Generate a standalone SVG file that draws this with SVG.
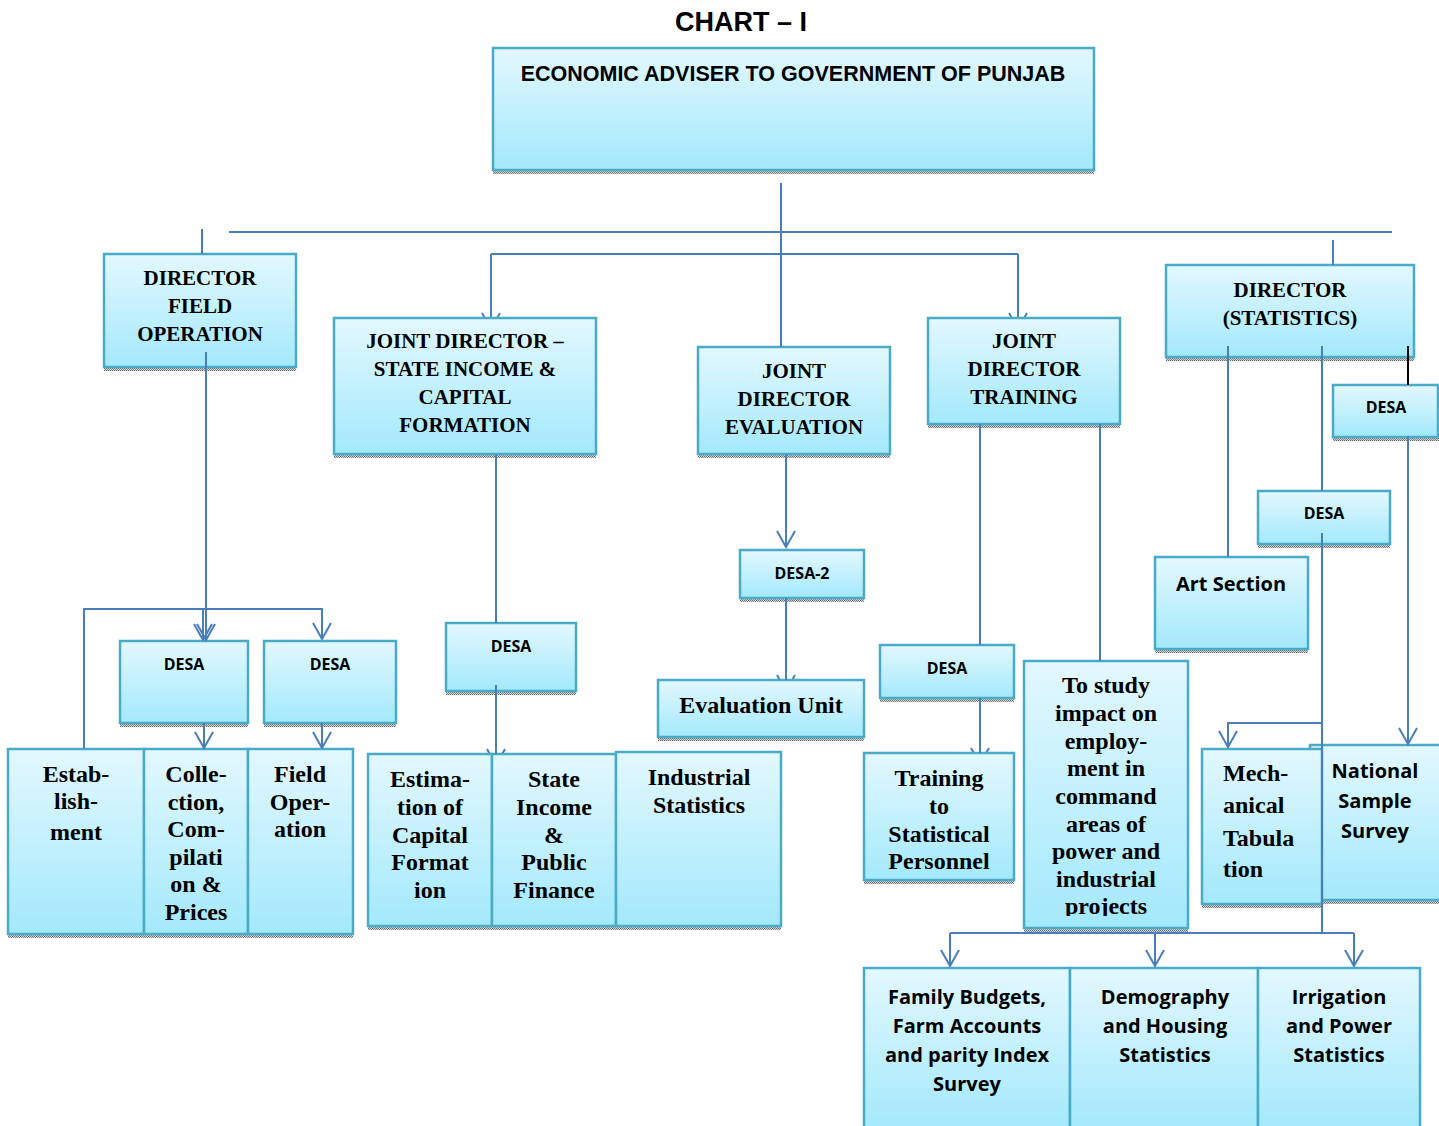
<svg xmlns="http://www.w3.org/2000/svg" width="1439" height="1126" viewBox="0 0 1439 1126">
<defs>
  <linearGradient id="g" x1="0" y1="0" x2="0" y2="1">
    <stop offset="0" stop-color="#e3f8fe"/>
    <stop offset="1" stop-color="#a3e9fc"/>
  </linearGradient>
  <pattern id="hatch" width="2" height="2" patternUnits="userSpaceOnUse">
    <rect width="2" height="2" fill="#d4d4d4"/>
    <rect width="1" height="1" fill="#6a6a6a"/>
    <rect x="1" y="1" width="1" height="1" fill="#8a8a8a"/>
  </pattern>
  <marker id="arr" viewBox="0 0 20 20" refX="18" refY="10" markerWidth="20" markerHeight="20" markerUnits="userSpaceOnUse" orient="auto">
    <path d="M2,1 L18,10 L2,19" fill="none" stroke="#4a7ebb" stroke-width="2"/>
  </marker>
  <clipPath id="clipTrain"><rect x="864" y="753" width="150" height="117"/></clipPath>
  <clipPath id="clipStudy"><rect x="1024" y="661" width="164" height="255"/></clipPath>
  <style>
    .box{fill:url(#g);stroke:#4aabc6;stroke-width:2.5}
    .sh{fill:url(#hatch)}
    .ln{fill:none;stroke:#4a7ebb;stroke-width:2}
    .ar{fill:none;stroke:#4a7ebb;stroke-width:2;marker-end:url(#arr)}
    .serif{font-family:"Liberation Serif","Times New Roman",serif;font-weight:bold;fill:#000;text-anchor:middle}
    .h{font-size:21px}
    .b{font-size:24px}
    .sans{font-family:"Open Sans","Liberation Sans",Arial,sans-serif;font-weight:bold;fill:#000;text-anchor:middle}
    .ds{font-size:16px}
    .s20{font-size:20px}
    .arial{font-family:"Liberation Sans",Arial,sans-serif;font-weight:bold;fill:#000;text-anchor:middle}
  </style>
</defs>
<rect width="1439" height="1126" fill="#ffffff"/>

<text class="arial" x="741" y="31" font-size="27">CHART – I</text>

<!-- arrows partly hidden behind boxes -->
<g id="connectors-back">
  <path class="ar" d="M491,254 V329"/>
  <path class="ar" d="M1018,254 V329"/>
  <path class="ar" d="M496,740 V765"/>
  <path class="ar" d="M786,668 V691"/>
  <path class="ar" d="M980,740 V764"/>
</g>

<g id="n-top">
  <rect class="sh" x="493" y="170" width="601" height="4"/>
  <rect class="box" x="493" y="48" width="601" height="122"/>
  <text class="arial" x="793" y="81" font-size="21.5">ECONOMIC ADVISER TO GOVERNMENT OF PUNJAB</text>
</g>

<g id="n-dfo">
  <rect class="sh" x="104" y="367" width="192" height="4"/>
  <rect class="box" x="104" y="254" width="192" height="113"/>
  <text class="serif h" x="200" y="285">DIRECTOR</text>
  <text class="serif h" x="200" y="313">FIELD</text>
  <text class="serif h" x="200" y="341">OPERATION</text>
</g>

<g id="n-jdsi">
  <rect class="sh" x="334" y="454" width="262" height="4"/>
  <rect class="box" x="334" y="318" width="262" height="136"/>
  <text class="serif h" x="465" y="348">JOINT DIRECTOR –</text>
  <text class="serif h" x="465" y="376">STATE INCOME &amp;</text>
  <text class="serif h" x="465" y="404">CAPITAL</text>
  <text class="serif h" x="465" y="432">FORMATION</text>
</g>

<g id="n-jde">
  <rect class="sh" x="698" y="454" width="192" height="4"/>
  <rect class="box" x="698" y="347" width="192" height="107"/>
  <text class="serif h" x="794" y="378">JOINT</text>
  <text class="serif h" x="794" y="406">DIRECTOR</text>
  <text class="serif h" x="794" y="434">EVALUATION</text>
</g>

<g id="n-jdt">
  <rect class="sh" x="928" y="424" width="192" height="4"/>
  <rect class="box" x="928" y="318" width="192" height="106"/>
  <text class="serif h" x="1024" y="348">JOINT</text>
  <text class="serif h" x="1024" y="376">DIRECTOR</text>
  <text class="serif h" x="1024" y="404">TRAINING</text>
</g>

<g id="n-dst">
  <rect class="sh" x="1166" y="357" width="248" height="4"/>
  <rect class="box" x="1166" y="265" width="248" height="92"/>
  <text class="serif h" x="1290" y="297">DIRECTOR</text>
  <text class="serif h" x="1290" y="325">(STATISTICS)</text>
</g>

<g id="n-desa-l1">
  <rect class="sh" x="120" y="723" width="128" height="4"/>
  <rect class="box" x="120" y="641" width="128" height="82"/>
  <text class="sans ds" x="184" y="670">DESA</text>
</g>

<g id="n-desa-l2">
  <rect class="sh" x="264" y="723" width="132" height="4"/>
  <rect class="box" x="264" y="641" width="132" height="82"/>
  <text class="sans ds" x="330" y="670">DESA</text>
</g>

<g id="n-estab">
  <rect class="sh" x="8" y="934" width="136" height="4"/>
  <rect class="box" x="8" y="749" width="136" height="185"/>
  <text class="serif b" x="76" y="782">Estab-</text>
  <text class="serif b" x="76" y="809">lish-</text>
  <text class="serif b" x="76" y="840">ment</text>
</g>

<g id="n-coll">
  <rect class="sh" x="144" y="934" width="104" height="4"/>
  <rect class="box" x="144" y="749" width="104" height="185"/>
  <text class="serif b" x="196" y="782">Colle-</text>
  <text class="serif b" x="196" y="810">ction,</text>
  <text class="serif b" x="196" y="837">Com-</text>
  <text class="serif b" x="196" y="865">pilati</text>
  <text class="serif b" x="196" y="892">on &amp;</text>
  <text class="serif b" x="196" y="920">Prices</text>
</g>

<g id="n-fop">
  <rect class="sh" x="248" y="934" width="105" height="4"/>
  <rect class="box" x="248" y="749" width="105" height="185"/>
  <text class="serif b" x="300" y="782">Field</text>
  <text class="serif b" x="300" y="810">Oper-</text>
  <text class="serif b" x="300" y="837">ation</text>
</g>

<g id="n-desa-m">
  <rect class="sh" x="446" y="691" width="130" height="4"/>
  <rect class="box" x="446" y="623" width="130" height="68"/>
  <text class="sans ds" x="511" y="652">DESA</text>
</g>

<g id="n-estim">
  <rect class="sh" x="368" y="926" width="124" height="4"/>
  <rect class="box" x="368" y="754" width="124" height="172"/>
  <text class="serif b" x="430" y="787">Estima-</text>
  <text class="serif b" x="430" y="815">tion of</text>
  <text class="serif b" x="430" y="843">Capital</text>
  <text class="serif b" x="430" y="870">Format</text>
  <text class="serif b" x="430" y="898">ion</text>
</g>

<g id="n-sipf">
  <rect class="sh" x="492" y="926" width="124" height="4"/>
  <rect class="box" x="492" y="754" width="124" height="172"/>
  <text class="serif b" x="554" y="787">State</text>
  <text class="serif b" x="554" y="815">Income</text>
  <text class="serif b" x="554" y="843">&amp;</text>
  <text class="serif b" x="554" y="870">Public</text>
  <text class="serif b" x="554" y="898">Finance</text>
</g>

<g id="n-ind">
  <rect class="sh" x="616" y="926" width="165" height="4"/>
  <rect class="box" x="616" y="752" width="165" height="174"/>
  <text class="serif b" x="699" y="785">Industrial</text>
  <text class="serif b" x="699" y="813">Statistics</text>
</g>

<g id="n-desa2">
  <rect class="sh" x="740" y="598" width="124" height="4"/>
  <rect class="box" x="740" y="550" width="124" height="48"/>
  <text class="sans ds" x="802" y="579">DESA-2</text>
</g>

<g id="n-evu">
  <rect class="sh" x="658" y="737" width="206" height="4"/>
  <rect class="box" x="658" y="680" width="206" height="57"/>
  <text class="serif b" x="761" y="713">Evaluation Unit</text>
</g>

<g id="n-desa-t">
  <rect class="sh" x="880" y="698" width="134" height="4"/>
  <rect class="box" x="880" y="645" width="134" height="53"/>
  <text class="sans ds" x="947" y="674">DESA</text>
</g>

<g id="n-train">
  <rect class="sh" x="864" y="880" width="150" height="4"/>
  <rect class="box" x="864" y="753" width="150" height="127"/>
  <g clip-path="url(#clipTrain)">
    <text class="serif b" x="939" y="786">Training</text>
    <text class="serif b" x="939" y="814">to</text>
    <text class="serif b" x="939" y="842">Statistical</text>
    <text class="serif b" x="939" y="869">Personnel</text>
  </g>
</g>

<g id="n-study">
  <rect class="sh" x="1024" y="928" width="164" height="4"/>
  <rect class="box" x="1024" y="661" width="164" height="267"/>
  <g clip-path="url(#clipStudy)">
    <text class="serif b" x="1106" y="693">To study</text>
    <text class="serif b" x="1106" y="721">impact on</text>
    <text class="serif b" x="1106" y="749">employ-</text>
    <text class="serif b" x="1106" y="776">ment in</text>
    <text class="serif b" x="1106" y="804">command</text>
    <text class="serif b" x="1106" y="832">areas of</text>
    <text class="serif b" x="1106" y="859">power and</text>
    <text class="serif b" x="1106" y="887">industrial</text>
    <text class="serif b" x="1106" y="914">projects</text>
  </g>
</g>

<g id="n-desa-r">
  <rect class="sh" x="1333" y="437" width="106" height="4"/>
  <rect class="box" x="1333" y="385" width="105" height="52"/>
  <text class="sans ds" x="1386" y="413">DESA</text>
</g>

<g id="n-desa-s">
  <rect class="sh" x="1258" y="544" width="132" height="4"/>
  <rect class="box" x="1258" y="491" width="132" height="53"/>
  <text class="sans ds" x="1324" y="519">DESA</text>
</g>

<g id="n-art">
  <rect class="sh" x="1155" y="649" width="153" height="4"/>
  <rect class="box" x="1155" y="557" width="153" height="92"/>
  <text class="sans s20" x="1231" y="591">Art Section</text>
</g>

<g id="n-nss">
  <rect class="sh" x="1310" y="900" width="129" height="4"/>
  <rect class="box" x="1310" y="745" width="131" height="155"/>
  <text class="sans s20" x="1375" y="778">National</text>
  <text class="sans s20" x="1375" y="808">Sample</text>
  <text class="sans s20" x="1375" y="838">Survey</text>
</g>

<g id="n-mech">
  <rect class="sh" x="1202" y="904" width="120" height="4"/>
  <rect class="box" x="1202" y="749" width="120" height="155"/>
  <text class="serif b" x="1223" y="781" style="text-anchor:start">Mech-</text>
  <text class="serif b" x="1223" y="813" style="text-anchor:start">anical</text>
  <text class="serif b" x="1223" y="846" style="text-anchor:start">Tabula</text>
  <text class="serif b" x="1223" y="877" style="text-anchor:start">tion</text>
</g>

<g id="n-fam">
  <rect class="box" x="864" y="968" width="206" height="162"/>
  <text class="sans s20" x="967" y="1004">Family Budgets,</text>
  <text class="sans s20" x="967" y="1033">Farm Accounts</text>
  <text class="sans s20" x="967" y="1062">and parity Index</text>
  <text class="sans s20" x="967" y="1091">Survey</text>
</g>

<g id="n-demo">
  <rect class="box" x="1070" y="968" width="188" height="162"/>
  <text class="sans s20" x="1165" y="1004">Demography</text>
  <text class="sans s20" x="1165" y="1033">and Housing</text>
  <text class="sans s20" x="1165" y="1062">Statistics</text>
</g>

<g id="n-irr">
  <rect class="box" x="1258" y="968" width="162" height="162"/>
  <text class="sans s20" x="1339" y="1004">Irrigation</text>
  <text class="sans s20" x="1339" y="1033">and Power</text>
  <text class="sans s20" x="1339" y="1062">Statistics</text>
</g>

<g id="connectors">
  <path class="ln" d="M781,183 V347"/>
  <path class="ln" d="M229,232 H1392" stroke-width="2.5"/>
  <path class="ln" d="M202,229 V254"/>
  <path class="ln" d="M1333,240 V265"/>
  <path class="ln" d="M491,254 H1018"/>
  <path class="ar" d="M206,352 V640"/>
  <path class="ar" d="M84,748 V609 H322 V639"/>
  <path class="ar" d="M203,609 V640"/>
  <path class="ar" d="M204,723 V748"/>
  <path class="ar" d="M322,723 V748"/>
  <path class="ln" d="M496,455 V623"/>
  <path class="ln" d="M496,685 V754"/>
  <path class="ar" d="M786,455 V547"/>
  <path class="ln" d="M786,598 V680"/>
  <path class="ln" d="M980,424 V645"/>
  <path class="ln" d="M980,698 V753"/>
  <path class="ln" d="M1100,424 V661"/>
  <path class="ln" d="M1228,346 V557"/>
  <path class="ln" d="M1322,346 V491"/>
  <path d="M1408,346 V385" fill="none" stroke="#000" stroke-width="2"/>
  <path class="ar" d="M1408,436 V744"/>
  <path class="ln" d="M1322,533 V933"/>
  <path class="ar" d="M1322,723 H1228 V747"/>
  <path class="ln" d="M950,933 H1354"/>
  <path class="ar" d="M950,933 V966"/>
  <path class="ar" d="M1155,933 V966"/>
  <path class="ar" d="M1354,933 V966"/>
</g>
</svg>
